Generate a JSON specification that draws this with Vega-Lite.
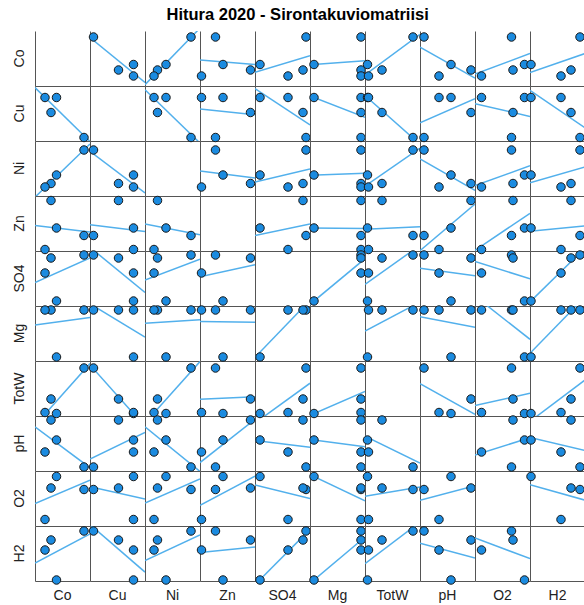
{
  "$schema": "https://vega.github.io/schema/vega-lite/v6.json",
  "title": {"text": "Hitura 2020 - Sirontakuviomatriisi", "fontSize": 16.5, "fontWeight": "bold", "font": "Liberation Sans", "color": "#000000", "anchor": "middle", "offset": 7, "dx": -2},
  "padding": {"left": 12, "top": 7, "right": 0, "bottom": 0},
  "bounds": "flush",
  "data": {"values": [
    {"obs": "A", "Co": 49, "Cu": 3.5, "Ni": 46, "Zn": 15.5, "SO4": 51, "Mg": 51, "TotW": 48, "pH": 4, "O2": 36.5, "H2": 50},
    {"obs": "B", "Co": 21.5, "Cu": 43.5, "Ni": 21, "Zn": 23, "SO4": 5, "Mg": 4, "TotW": 2.5, "pH": 31, "O2": 49.5, "H2": 1},
    {"obs": "C", "Co": 16, "Cu": 28.5, "Ni": 12.5, "Zn": 50.5, "SO4": 48, "Mg": 51, "TotW": 17, "pH": 51, "O2": 38, "H2": 41},
    {"obs": "D", "Co": 10, "Cu": 43.5, "Ni": 9, "Zn": 1.5, "SO4": 33, "Mg": 51, "TotW": 3.5, "pH": 19, "O2": 6.5, "H2": 31}
  ]},
  "transform": [
    {"fold": ["Co", "Cu", "Ni", "Zn", "SO4", "Mg", "TotW", "pH", "O2", "H2"], "as": ["rowvar", "yval"]},
    {"fold": ["Co", "Cu", "Ni", "Zn", "SO4", "Mg", "TotW", "pH", "O2", "H2"], "as": ["colvar", "xval"]}
  ],
  "facet": {
    "row": {"field": "rowvar", "type": "nominal", "sort": ["Co", "Cu", "Ni", "Zn", "SO4", "Mg", "TotW", "pH", "O2", "H2"],
      "header": {"title": null, "labelOrient": "left", "labelAngle": -90, "labelFontSize": 14, "labelFont": "Liberation Sans", "labelColor": "#222222", "labelPadding": 1}},
    "column": {"field": "colvar", "type": "nominal", "sort": ["Co", "Cu", "Ni", "Zn", "SO4", "Mg", "TotW", "pH", "O2", "H2"],
      "header": {"title": null, "labelOrient": "bottom", "labelFontSize": 14, "labelFont": "Liberation Sans", "labelColor": "#222222", "labelPadding": 8}}
  },
  "spacing": {"row": 0, "column": 0},
  "resolve": {"axis": {"x": "independent", "y": "independent"}},
  "spec": {
    "width": 55,
    "height": 55,
    "layer": [
      {
        "transform": [
          {"filter": "datum.rowvar != datum.colvar"},
          {"regression": "yval", "on": "xval", "groupby": ["rowvar", "colvar"], "extent": [0, 55]}
        ],
        "mark": {"type": "line", "color": "#52b0ec", "strokeWidth": 1.5, "clip": true},
        "encoding": {
          "x": {"field": "xval", "type": "quantitative", "scale": {"domain": [0, 55], "nice": false, "zero": false}, "axis": {"title": null, "labels": false, "ticks": false, "grid": false, "domain": true, "domainColor": "#555555", "minExtent": 0, "maxExtent": 0}},
          "y": {"field": "yval", "type": "quantitative", "scale": {"domain": [0, 55], "nice": false, "zero": false}, "axis": {"title": null, "labels": false, "ticks": false, "grid": false, "domain": true, "domainColor": "#555555", "minExtent": 0, "maxExtent": 0}}
        }
      },
      {
        "transform": [{"filter": "datum.rowvar != datum.colvar"}],
        "mark": {"type": "point", "filled": true, "fill": "#1b8be0", "stroke": "#1a1a1a", "strokeWidth": 1, "size": 72, "opacity": 1},
        "encoding": {
          "x": {"field": "xval", "type": "quantitative"},
          "y": {"field": "yval", "type": "quantitative"}
        }
      }
    ]
  },
  "config": {
    "view": {"stroke": null},
    "axis": {"domainColor": "#555555", "domainWidth": 1}
  }
}
